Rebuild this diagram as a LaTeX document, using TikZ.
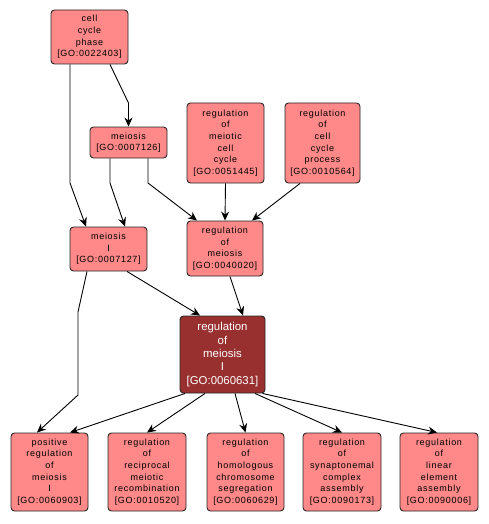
\documentclass[tikz,border=0pt]{standalone}
\usepackage{fontspec}
\setmainfont{Liberation Sans}
\newfontfamily\termfont[LetterSpace=8]{Liberation Sans}
\usetikzlibrary{arrows.meta}

\definecolor{termfill}{RGB}{255,136,136}
\definecolor{focusfill}{RGB}{153,48,48}

\tikzset{
  term/.style={draw=black!85, fill=termfill, rounded corners=3.5pt, line width=0.9pt,
    align=center, inner sep=0pt, font=\termfont\fontsize{9}{11.6}\selectfont},
  focus/.style={term, fill=focusfill, text=white, font=\rmfamily\fontsize{11.4}{13.4}\selectfont},
  edge/.style={line width=0.9pt, -{Stealth[length=9pt,width=8pt,inset=3pt]}}
}

\begin{document}
\begin{tikzpicture}[x=1pt,y=-1pt]
            \useasboundingbox (0,0) rectangle (488,524);
            \node[term, minimum width=77, minimum height=54] (ccphase) at (89.5,37) {cell\\cycle\\phase\\{[GO:0022403]}};
            \node[term, minimum width=77, minimum height=31] (meiosis) at (128.5,142.5) {meiosis\\{[GO:0007126]}};
            \node[term, minimum width=77, minimum height=80] (regmcc) at (225.5,143) {regulation\\of\\meiotic\\cell\\cycle\\{[GO:0051445]}};
            \node[term, minimum width=75, minimum height=80] (regccp) at (322.5,143) {regulation\\of\\cell\\cycle\\process\\{[GO:0010564]}};
            \node[term, minimum width=77, minimum height=44] (meiosisI) at (108.5,249) {meiosis\\I\\{[GO:0007127]}};
            \node[term, minimum width=76, minimum height=55] (regmei) at (225,248.5) {regulation\\of\\meiosis\\{[GO:0040020]}};
            \node[focus, minimum width=85, minimum height=77] (regmeiI) at (222.5,354.5) {regulation\\of\\meiosis\\I\\{[GO:0060631]}};
            \node[term, minimum width=77, minimum height=78] (posreg) at (49.5,472) {positive\\regulation\\of\\meiosis\\I\\{[GO:0060903]}};
            \node[term, minimum width=78, minimum height=78] (recomb) at (147,472) {regulation\\of\\reciprocal\\meiotic\\recombination\\{[GO:0010520]}};
            \node[term, minimum width=77, minimum height=78] (homseg) at (245.5,472) {regulation\\of\\homologous\\chromosome\\segregation\\{[GO:0060629]}};
            \node[term, minimum width=78, minimum height=78] (synap) at (342,472) {regulation\\of\\synaptonemal\\complex\\assembly\\{[GO:0090173]}};
            \node[term, minimum width=78, minimum height=78] (linear) at (439,472) {regulation\\of\\linear\\element\\assembly\\{[GO:0090006]}};
            % upper part
            \draw[edge] ([xshift=-19.5pt]ccphase.south) -- (70,183) -- ([xshift=-22.5pt]meiosisI.north);
            \draw[edge] ([xshift=20.5pt]ccphase.south) -- (128.5,103) -- (meiosis.north);
            \draw[edge] ([xshift=-18.5pt]meiosis.south) -- (110,183) -- ([xshift=16.5pt]meiosisI.north);
            \draw[edge] ([xshift=19.5pt]meiosis.south) -- (148,183) -- ([xshift=-28pt]regmei.north);
            \draw[edge] (regmcc.south) -- (regmei.north);
            \draw[edge] ([xshift=-22.5pt]regccp.south) -- ([xshift=27pt]regmei.north);
            \draw[edge] ([xshift=18.5pt]meiosisI.south) -- ([xshift=-22.5pt]regmeiI.north);
            \draw[edge] ([xshift=5pt]regmei.south) -- ([xshift=20.5pt]regmeiI.north);
            % lower part
            \draw[edge] ([xshift=-21.5pt]meiosisI.south) -- (78,312) -- (78,395) -- ([xshift=-12.5pt]posreg.north);
            \draw[edge] ([xshift=-37.5pt]regmeiI.south) -- ([xshift=20.5pt]posreg.north);
            \draw[edge] ([xshift=-17.5pt]regmeiI.south) -- (recomb.north);
            \draw[edge] ([xshift=12.5pt]regmeiI.south) -- (homseg.north);
            \draw[edge] ([xshift=32.5pt]regmeiI.south) -- (synap.north);
            \draw[edge] ([xshift=40pt]regmeiI.south) -- ([xshift=-2pt]linear.north);
        \end{tikzpicture}
\end{document}
